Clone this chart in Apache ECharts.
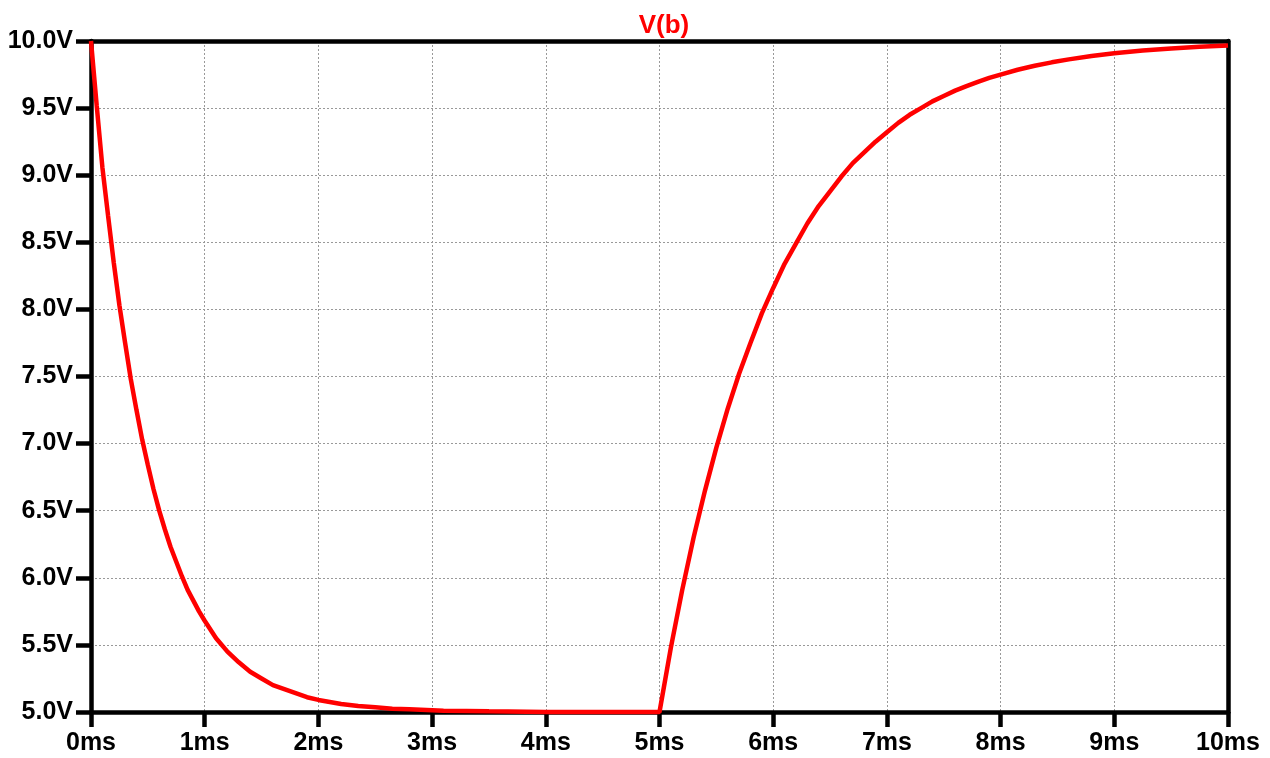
<!DOCTYPE html>
<html>
<head>
<meta charset="utf-8">
<title>V(b)</title>
<script src="https://cdn.jsdelivr.net/npm/echarts@6/dist/echarts.min.js"></script>
<style>
  html, body { margin: 0; padding: 0; background: #fff; }
  #chart { width: 1270px; height: 758px; }
</style>
</head>
<body>
<div id="chart"></div>
<script>
// time in ms
var timeMs = [
  0, 0.025, 0.05, 0.1, 0.15, 0.2, 0.25, 0.3, 0.35, 0.4, 0.45, 0.5, 0.55, 0.6, 0.65, 0.7,
  0.75, 0.8, 0.85, 0.9, 0.95, 1.0, 1.1, 1.2, 1.3, 1.4, 1.5, 1.6, 1.7, 1.8, 1.9, 2.0,
  2.2, 2.35, 2.5, 2.65, 2.8, 3.1, 3.5, 4.0, 4.5, 5.0,
  5.1, 5.2, 5.3, 5.4, 5.5, 5.6, 5.7, 5.8, 5.9, 6.0, 6.1, 6.2, 6.3, 6.4, 6.5, 6.6, 6.7,
  6.8, 6.9, 7.0, 7.1, 7.2, 7.3, 7.4, 7.5, 7.6, 7.7, 7.8, 7.9, 8.0, 8.15, 8.3, 8.45,
  8.6, 8.8, 9.0, 9.25, 9.5, 9.75, 10.0
];
// V(b) in volts
var vb = [
  10.0, 9.76, 9.52, 9.06, 8.70, 8.35, 8.03, 7.75, 7.48, 7.25, 7.03, 6.84, 6.66, 6.50, 6.36, 6.23,
  6.12, 6.01, 5.91, 5.83, 5.75, 5.68, 5.55, 5.45, 5.37, 5.30, 5.25, 5.20, 5.17, 5.14, 5.11, 5.09,
  5.06, 5.045, 5.035, 5.025, 5.02, 5.01, 5.005, 5.0, 5.0, 5.0,
  5.48, 5.91, 6.30, 6.65, 6.97, 7.26, 7.52, 7.75, 7.97, 8.16, 8.34, 8.49, 8.64, 8.77, 8.88, 8.99, 9.09,
  9.17, 9.25, 9.32, 9.39, 9.45, 9.50, 9.55, 9.59, 9.63, 9.664, 9.696, 9.725, 9.75, 9.786, 9.816, 9.841,
  9.863, 9.888, 9.908, 9.929, 9.944, 9.957, 9.966
];
var traceName = "V(b)";

var points = [];
for (var i = 0; i < timeMs.length; i++) {
  points.push([timeMs[i], vb[i]]);
}

var myChart = echarts.init(document.getElementById("chart"));
var labelFont = "Liberation Sans, Arial, sans-serif";
var frameLine = { show: true, onZero: false, lineStyle: { color: "#000", width: 4.5 } };
var option = {
  animation: false,
  backgroundColor: "#fff",
  title: {
    text: traceName,
    left: 659,
    top: 8,
    textAlign: "center",
    textStyle: { color: "#ff0000", fontSize: 26, fontWeight: "bold", fontFamily: labelFont }
  },
  grid: {
    left: 91,
    right: 42,
    top: 41,
    bottom: 46
  },
  xAxis: [
    {
      type: "value",
      min: 0,
      max: 10,
      interval: 1,
      axisLine: frameLine,
      axisTick: { show: true, length: 15, lineStyle: { color: "#000", width: 4.5 } },
      axisLabel: {
        margin: 19,
        color: "#000",
        fontSize: 25,
        fontWeight: "bold",
        fontFamily: labelFont,
        formatter: function (v) { return v + "ms"; }
      },
      splitLine: {
        show: true, showMinLine: false, showMaxLine: false,
        lineStyle: { color: "#999", type: [2, 2], width: 1 }
      }
    },
    {
      // top frame edge
      type: "value", position: "top", min: 0, max: 10,
      axisLine: frameLine, axisTick: { show: false }, axisLabel: { show: false }, splitLine: { show: false }
    }
  ],
  yAxis: [
    {
      type: "value",
      min: 5,
      max: 10,
      interval: 0.5,
      axisLine: frameLine,
      axisTick: { show: true, length: 15, lineStyle: { color: "#000", width: 4.5 } },
      axisLabel: {
        margin: 18,
        color: "#000",
        fontSize: 25,
        fontWeight: "bold",
        fontFamily: labelFont,
        formatter: function (v) { return v.toFixed(1) + "V"; }
      },
      splitLine: {
        show: true, showMinLine: false, showMaxLine: false,
        lineStyle: { color: "#999", type: [2, 2], width: 1 }
      }
    },
    {
      // right frame edge
      type: "value", position: "right", min: 5, max: 10,
      axisLine: frameLine, axisTick: { show: false }, axisLabel: { show: false }, splitLine: { show: false }
    }
  ],
  series: [
    {
      name: traceName,
      type: "line",
      data: points,
      showSymbol: false,
      smooth: false,
      clip: false,
      z: 3,
      lineStyle: { color: "#ff0000", width: 4.5 }
    }
  ]
};

option && myChart.setOption(option);
</script>
</body>
</html>
